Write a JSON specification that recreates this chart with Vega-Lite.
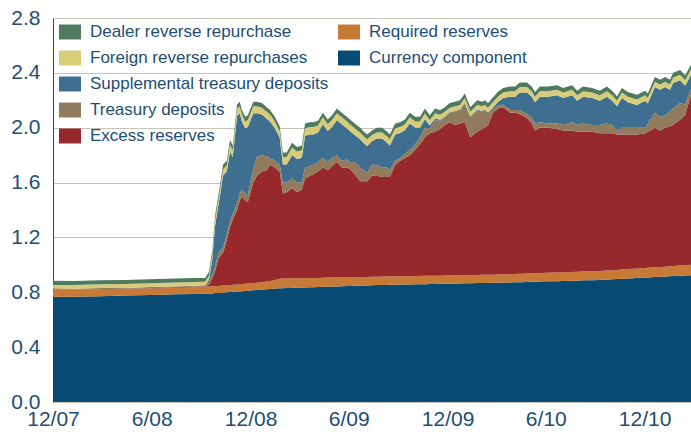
{
"$schema": "https://vega.github.io/schema/vega-lite/v6.json",
"width": 638, "height": 384,
"autosize": {"type": "none"},
"padding": {"left": 53, "top": 18, "right": 0, "bottom": 31},
"background": "white",
"config": {"view": {"stroke": null}, "font": "Liberation Sans"},
"datasets": {
"series": [
{"key": "cur", "name": "Currency component", "rank": 1},
{"key": "req", "name": "Required reserves", "rank": 2},
{"key": "exc", "name": "Excess reserves", "rank": 3},
{"key": "td", "name": "Treasury deposits", "rank": 4},
{"key": "std", "name": "Supplemental treasury deposits", "rank": 5},
{"key": "frr", "name": "Foreign reverse repurchases", "rank": 6},
{"key": "drr", "name": "Dealer reverse repurchase", "rank": 7}
],
"main": [
{"d":"2007-12-01","cur":0.768,"req":0.049,"exc":0.004,"td":0.008,"std":0,"frr":0.025,"drr":0.030},
{"d":"2008-01-10","cur":0.768,"req":0.048,"exc":0.004,"td":0.006,"std":0,"frr":0.027,"drr":0.029},
{"d":"2008-02-26","cur":0.772,"req":0.047,"exc":0.004,"td":0.008,"std":0,"frr":0.027,"drr":0.029},
{"d":"2008-04-12","cur":0.776,"req":0.046,"exc":0.004,"td":0.006,"std":0,"frr":0.028,"drr":0.029},
{"d":"2008-05-29","cur":0.780,"req":0.046,"exc":0.004,"td":0.008,"std":0,"frr":0.028,"drr":0.029},
{"d":"2008-07-14","cur":0.785,"req":0.047,"exc":0.004,"td":0.007,"std":0,"frr":0.028,"drr":0.029},
{"d":"2008-08-20","cur":0.788,"req":0.048,"exc":0.004,"td":0.008,"std":0,"frr":0.027,"drr":0.029},
{"d":"2008-09-08","cur":0.790,"req":0.050,"exc":0.004,"td":0.008,"std":0,"frr":0.025,"drr":0.028},
{"d":"2008-09-15","cur":0.791,"req":0.051,"exc":0.013,"td":0.015,"std":0.022,"frr":0.030,"drr":0.028},
{"d":"2008-09-21","cur":0.792,"req":0.052,"exc":0.056,"td":0.030,"std":0.102,"frr":0.035,"drr":0.033},
{"d":"2008-09-26","cur":0.794,"req":0.052,"exc":0.104,"td":0.040,"std":0.286,"frr":0.040,"drr":0.034},
{"d":"2008-10-02","cur":0.795,"req":0.051,"exc":0.194,"td":0.040,"std":0.346,"frr":0.040,"drr":0.034},
{"d":"2008-10-05","cur":0.796,"req":0.052,"exc":0.212,"td":0.040,"std":0.396,"frr":0.040,"drr":0.034},
{"d":"2008-10-11","cur":0.798,"req":0.051,"exc":0.241,"td":0.040,"std":0.521,"frr":0.045,"drr":0.034},
{"d":"2008-10-18","cur":0.800,"req":0.051,"exc":0.329,"td":0.040,"std":0.461,"frr":0.045,"drr":0.034},
{"d":"2008-10-24","cur":0.802,"req":0.051,"exc":0.427,"td":0.040,"std":0.506,"frr":0.050,"drr":0.034},
{"d":"2008-10-29","cur":0.803,"req":0.052,"exc":0.475,"td":0.040,"std":0.416,"frr":0.050,"drr":0.034},
{"d":"2008-11-06","cur":0.806,"req":0.051,"exc":0.543,"td":0.050,"std":0.636,"frr":0.050,"drr":0.034},
{"d":"2008-11-11","cur":0.807,"req":0.052,"exc":0.611,"td":0.050,"std":0.586,"frr":0.050,"drr":0.034},
{"d":"2008-11-15","cur":0.808,"req":0.052,"exc":0.640,"td":0.050,"std":0.496,"frr":0.050,"drr":0.034},
{"d":"2008-11-21","cur":0.810,"req":0.052,"exc":0.608,"td":0.050,"std":0.476,"frr":0.050,"drr":0.034},
{"d":"2008-11-26","cur":0.812,"req":0.052,"exc":0.596,"td":0.050,"std":0.496,"frr":0.050,"drr":0.034},
{"d":"2008-12-06","cur":0.815,"req":0.053,"exc":0.732,"td":0.100,"std":0.406,"frr":0.050,"drr":0.034},
{"d":"2008-12-13","cur":0.817,"req":0.053,"exc":0.780,"td":0.140,"std":0.316,"frr":0.050,"drr":0.034},
{"d":"2008-12-22","cur":0.820,"req":0.053,"exc":0.807,"td":0.120,"std":0.296,"frr":0.050,"drr":0.034},
{"d":"2008-12-31","cur":0.823,"req":0.055,"exc":0.812,"td":0.100,"std":0.276,"frr":0.050,"drr":0.034},
{"d":"2009-01-06","cur":0.824,"req":0.059,"exc":0.847,"td":0.050,"std":0.266,"frr":0.050,"drr":0.034},
{"d":"2009-01-15","cur":0.827,"req":0.063,"exc":0.820,"td":0.050,"std":0.236,"frr":0.050,"drr":0.034},
{"d":"2009-01-24","cur":0.830,"req":0.068,"exc":0.782,"td":0.050,"std":0.196,"frr":0.050,"drr":0.034},
{"d":"2009-01-30","cur":0.830,"req":0.070,"exc":0.620,"td":0.080,"std":0.131,"frr":0.055,"drr":0.034},
{"d":"2009-02-06","cur":0.831,"req":0.070,"exc":0.629,"td":0.070,"std":0.131,"frr":0.055,"drr":0.034},
{"d":"2009-02-16","cur":0.832,"req":0.070,"exc":0.658,"td":0.070,"std":0.171,"frr":0.055,"drr":0.034},
{"d":"2009-02-25","cur":0.834,"req":0.068,"exc":0.628,"td":0.070,"std":0.171,"frr":0.055,"drr":0.034},
{"d":"2009-03-06","cur":0.835,"req":0.068,"exc":0.647,"td":0.050,"std":0.181,"frr":0.055,"drr":0.034},
{"d":"2009-03-12","cur":0.835,"req":0.068,"exc":0.727,"td":0.080,"std":0.231,"frr":0.055,"drr":0.034},
{"d":"2009-03-21","cur":0.837,"req":0.067,"exc":0.746,"td":0.070,"std":0.231,"frr":0.055,"drr":0.034},
{"d":"2009-03-27","cur":0.837,"req":0.068,"exc":0.755,"td":0.070,"std":0.221,"frr":0.055,"drr":0.034},
{"d":"2009-04-05","cur":0.838,"req":0.067,"exc":0.775,"td":0.070,"std":0.216,"frr":0.050,"drr":0.034},
{"d":"2009-04-14","cur":0.840,"req":0.066,"exc":0.804,"td":0.070,"std":0.246,"frr":0.050,"drr":0.034},
{"d":"2009-04-23","cur":0.841,"req":0.066,"exc":0.783,"td":0.060,"std":0.226,"frr":0.050,"drr":0.034},
{"d":"2009-05-01","cur":0.842,"req":0.065,"exc":0.813,"td":0.060,"std":0.226,"frr":0.050,"drr":0.034},
{"d":"2009-05-10","cur":0.843,"req":0.065,"exc":0.842,"td":0.050,"std":0.256,"frr":0.050,"drr":0.034},
{"d":"2009-05-19","cur":0.844,"req":0.065,"exc":0.801,"td":0.050,"std":0.266,"frr":0.050,"drr":0.034},
{"d":"2009-05-29","cur":0.845,"req":0.064,"exc":0.800,"td":0.060,"std":0.226,"frr":0.050,"drr":0.034},
{"d":"2009-06-03","cur":0.846,"req":0.064,"exc":0.790,"td":0.050,"std":0.226,"frr":0.050,"drr":0.034},
{"d":"2009-06-12","cur":0.847,"req":0.063,"exc":0.750,"td":0.090,"std":0.196,"frr":0.050,"drr":0.034},
{"d":"2009-06-22","cur":0.848,"req":0.063,"exc":0.699,"td":0.100,"std":0.206,"frr":0.050,"drr":0.034},
{"d":"2009-06-29","cur":0.849,"req":0.063,"exc":0.698,"td":0.080,"std":0.196,"frr":0.050,"drr":0.034},
{"d":"2009-07-05","cur":0.850,"req":0.062,"exc":0.698,"td":0.060,"std":0.196,"frr":0.050,"drr":0.034},
{"d":"2009-07-14","cur":0.851,"req":0.062,"exc":0.737,"td":0.080,"std":0.171,"frr":0.045,"drr":0.034},
{"d":"2009-07-23","cur":0.853,"req":0.061,"exc":0.736,"td":0.080,"std":0.191,"frr":0.045,"drr":0.034},
{"d":"2009-08-02","cur":0.853,"req":0.062,"exc":0.725,"td":0.070,"std":0.211,"frr":0.045,"drr":0.034},
{"d":"2009-08-11","cur":0.854,"req":0.061,"exc":0.725,"td":0.070,"std":0.181,"frr":0.045,"drr":0.034},
{"d":"2009-08-16","cur":0.855,"req":0.061,"exc":0.724,"td":0.050,"std":0.181,"frr":0.045,"drr":0.034},
{"d":"2009-08-26","cur":0.855,"req":0.061,"exc":0.814,"td":0.030,"std":0.191,"frr":0.045,"drr":0.034},
{"d":"2009-09-04","cur":0.856,"req":0.061,"exc":0.843,"td":0.020,"std":0.181,"frr":0.045,"drr":0.034},
{"d":"2009-09-13","cur":0.857,"req":0.060,"exc":0.863,"td":0.030,"std":0.171,"frr":0.045,"drr":0.034},
{"d":"2009-09-22","cur":0.857,"req":0.061,"exc":0.882,"td":0.040,"std":0.191,"frr":0.045,"drr":0.034},
{"d":"2009-10-02","cur":0.858,"req":0.060,"exc":0.922,"td":0.040,"std":0.121,"frr":0.045,"drr":0.034},
{"d":"2009-10-11","cur":0.859,"req":0.060,"exc":0.961,"td":0.050,"std":0.071,"frr":0.045,"drr":0.034},
{"d":"2009-10-20","cur":0.859,"req":0.061,"exc":1.010,"td":0.070,"std":0.061,"frr":0.045,"drr":0.034},
{"d":"2009-10-29","cur":0.860,"req":0.060,"exc":1.040,"td":0.032,"std":0.024,"frr":0.040,"drr":0.034},
{"d":"2009-11-08","cur":0.861,"req":0.060,"exc":1.049,"td":0.082,"std":0.016,"frr":0.038,"drr":0.034},
{"d":"2009-11-17","cur":0.862,"req":0.059,"exc":1.069,"td":0.060,"std":0.008,"frr":0.036,"drr":0.034},
{"d":"2009-11-26","cur":0.862,"req":0.060,"exc":1.098,"td":0.057,"std":0.005,"frr":0.034,"drr":0.034},
{"d":"2009-12-05","cur":0.863,"req":0.060,"exc":1.117,"td":0.067,"std":0.005,"frr":0.034,"drr":0.034},
{"d":"2009-12-15","cur":0.863,"req":0.060,"exc":1.097,"td":0.097,"std":0.005,"frr":0.034,"drr":0.034},
{"d":"2009-12-24","cur":0.864,"req":0.060,"exc":1.106,"td":0.097,"std":0.005,"frr":0.034,"drr":0.034},
{"d":"2010-01-02","cur":0.865,"req":0.060,"exc":1.115,"td":0.137,"std":0.005,"frr":0.034,"drr":0.034},
{"d":"2010-01-12","cur":0.866,"req":0.059,"exc":1.005,"td":0.147,"std":0.005,"frr":0.034,"drr":0.034},
{"d":"2010-01-25","cur":0.867,"req":0.059,"exc":1.044,"td":0.157,"std":0.005,"frr":0.034,"drr":0.034},
{"d":"2010-02-03","cur":0.867,"req":0.060,"exc":1.063,"td":0.127,"std":0.005,"frr":0.034,"drr":0.034},
{"d":"2010-02-08","cur":0.868,"req":0.059,"exc":1.073,"td":0.127,"std":0.005,"frr":0.034,"drr":0.034},
{"d":"2010-02-14","cur":0.868,"req":0.059,"exc":1.093,"td":0.087,"std":0.005,"frr":0.034,"drr":0.034},
{"d":"2010-02-23","cur":0.869,"req":0.059,"exc":1.182,"td":0.032,"std":0.008,"frr":0.036,"drr":0.034},
{"d":"2010-03-04","cur":0.870,"req":0.060,"exc":1.210,"td":0.020,"std":0.026,"frr":0.040,"drr":0.034},
{"d":"2010-03-14","cur":0.871,"req":0.060,"exc":1.219,"td":0.020,"std":0.046,"frr":0.040,"drr":0.034},
{"d":"2010-03-27","cur":0.872,"req":0.060,"exc":1.178,"td":0.020,"std":0.096,"frr":0.040,"drr":0.034},
{"d":"2010-04-05","cur":0.873,"req":0.061,"exc":1.176,"td":0.020,"std":0.096,"frr":0.040,"drr":0.034},
{"d":"2010-04-14","cur":0.874,"req":0.061,"exc":1.165,"td":0.030,"std":0.126,"frr":0.040,"drr":0.034},
{"d":"2010-04-27","cur":0.875,"req":0.062,"exc":1.133,"td":0.030,"std":0.156,"frr":0.040,"drr":0.034},
{"d":"2010-05-06","cur":0.876,"req":0.062,"exc":1.092,"td":0.040,"std":0.156,"frr":0.040,"drr":0.034},
{"d":"2010-05-12","cur":0.877,"req":0.062,"exc":1.041,"td":0.050,"std":0.156,"frr":0.040,"drr":0.034},
{"d":"2010-05-21","cur":0.878,"req":0.062,"exc":1.060,"td":0.040,"std":0.186,"frr":0.040,"drr":0.034},
{"d":"2010-06-05","cur":0.880,"req":0.062,"exc":1.058,"td":0.030,"std":0.196,"frr":0.040,"drr":0.034},
{"d":"2010-06-22","cur":0.881,"req":0.063,"exc":1.046,"td":0.040,"std":0.206,"frr":0.040,"drr":0.034},
{"d":"2010-07-03","cur":0.883,"req":0.063,"exc":1.034,"td":0.040,"std":0.196,"frr":0.040,"drr":0.034},
{"d":"2010-07-20","cur":0.884,"req":0.064,"exc":1.032,"td":0.060,"std":0.196,"frr":0.040,"drr":0.034},
{"d":"2010-07-29","cur":0.885,"req":0.064,"exc":1.021,"td":0.050,"std":0.176,"frr":0.040,"drr":0.034},
{"d":"2010-08-09","cur":0.887,"req":0.064,"exc":1.019,"td":0.060,"std":0.196,"frr":0.040,"drr":0.034},
{"d":"2010-08-26","cur":0.888,"req":0.065,"exc":1.017,"td":0.050,"std":0.196,"frr":0.040,"drr":0.034},
{"d":"2010-09-09","cur":0.890,"req":0.065,"exc":1.005,"td":0.060,"std":0.176,"frr":0.040,"drr":0.034},
{"d":"2010-09-22","cur":0.893,"req":0.065,"exc":1.002,"td":0.070,"std":0.196,"frr":0.040,"drr":0.034},
{"d":"2010-10-02","cur":0.895,"req":0.066,"exc":0.999,"td":0.060,"std":0.176,"frr":0.040,"drr":0.034},
{"d":"2010-10-11","cur":0.897,"req":0.066,"exc":0.987,"td":0.030,"std":0.176,"frr":0.040,"drr":0.034},
{"d":"2010-10-20","cur":0.899,"req":0.067,"exc":0.984,"td":0.050,"std":0.216,"frr":0.040,"drr":0.034},
{"d":"2010-10-31","cur":0.901,"req":0.068,"exc":0.981,"td":0.050,"std":0.186,"frr":0.040,"drr":0.034},
{"d":"2010-11-17","cur":0.904,"req":0.069,"exc":0.977,"td":0.050,"std":0.166,"frr":0.040,"drr":0.034},
{"d":"2010-12-02","cur":0.907,"req":0.070,"exc":0.983,"td":0.040,"std":0.196,"frr":0.040,"drr":0.034},
{"d":"2010-12-07","cur":0.908,"req":0.071,"exc":0.991,"td":0.060,"std":0.146,"frr":0.040,"drr":0.034},
{"d":"2010-12-20","cur":0.911,"req":0.071,"exc":1.018,"td":0.110,"std":0.186,"frr":0.040,"drr":0.034},
{"d":"2010-12-30","cur":0.913,"req":0.072,"exc":0.995,"td":0.100,"std":0.196,"frr":0.040,"drr":0.034},
{"d":"2011-01-08","cur":0.915,"req":0.072,"exc":1.013,"td":0.090,"std":0.206,"frr":0.040,"drr":0.034},
{"d":"2011-01-17","cur":0.917,"req":0.073,"exc":1.020,"td":0.110,"std":0.156,"frr":0.040,"drr":0.034},
{"d":"2011-01-23","cur":0.918,"req":0.073,"exc":1.029,"td":0.120,"std":0.186,"frr":0.040,"drr":0.034},
{"d":"2011-02-05","cur":0.921,"req":0.074,"exc":1.065,"td":0.120,"std":0.166,"frr":0.040,"drr":0.034},
{"d":"2011-02-14","cur":0.923,"req":0.074,"exc":1.093,"td":0.080,"std":0.136,"frr":0.040,"drr":0.034},
{"d":"2011-02-25","cur":0.925,"req":0.075,"exc":1.240,"td":0.040,"std":0.106,"frr":0.040,"drr":0.034}
]
},
"data": {"name": "main"},
"transform": [
{"fold": ["cur", "req", "exc", "td", "std", "frr", "drr"], "as": ["key", "value"]},
{"lookup": "key", "from": {"data": {"name": "series"}, "key": "key", "fields": ["name", "rank"]}}
],
"mark": {"type": "area", "interpolate": "linear"},
"encoding": {
"x": {
"field": "d", "type": "temporal",
"scale": {"type": "utc", "domain": [{"year": 2007, "month": 12, "date": 1, "utc": true}, {"year": 2011, "month": 2, "date": 25, "utc": true}]},
"axis": {
"title": null,
"labelExpr": "utcFormat(datum.value, '%-m/%y')",
"values": [
{"year": 2007, "month": 12, "date": 1, "utc": true},
{"year": 2008, "month": 6, "date": 1, "utc": true},
{"year": 2008, "month": 12, "date": 1, "utc": true},
{"year": 2009, "month": 6, "date": 1, "utc": true},
{"year": 2009, "month": 12, "date": 1, "utc": true},
{"year": 2010, "month": 6, "date": 1, "utc": true},
{"year": 2010, "month": 12, "date": 1, "utc": true}
],
"grid": false, "ticks": false, "domain": false,
"labelFont": "Liberation Sans", "labelFontSize": 21, "labelColor": "#1d4e75",
"labelPadding": 6, "labelFlush": false, "labelOverlap": false
}
},
"y": {
"field": "value", "type": "quantitative", "stack": "zero",
"scale": {"domain": [0, 2.8], "nice": false, "zero": true},
"axis": {
"title": null, "values": [0, 0.4, 0.8, 1.2, 1.6, 2.0, 2.4, 2.8], "format": ".1f",
"grid": true, "gridColor": "#cbc2b8", "gridWidth": 1.2,
"ticks": false, "domain": true, "domainColor": "#24466b", "domainWidth": 1,
"labelFont": "Liberation Sans", "labelFontSize": 21, "labelColor": "#1d4e75",
"labelPadding": 13
}
},
"color": {
"field": "name", "type": "nominal",
"scale": {
"domain": ["Dealer reverse repurchase", "Foreign reverse repurchases", "Supplemental treasury deposits", "Treasury deposits", "Excess reserves", "Required reserves", "Currency component", "_b1", "_b2", "_b3"],
"range": ["#4e7a5f", "#d9cc79", "#3e6f91", "#927a5c", "#97292c", "#c77a36", "#074b74", "rgba(0,0,0,0)", "rgba(0,0,0,0)", "rgba(0,0,0,0)"]
},
"legend": {
"orient": "none", "legendX": 6, "legendY": 3, "columns": 2, "title": null,
"symbolType": "M-1,-0.68H1V0.68H-1Z", "symbolSize": 484, "symbolStrokeWidth": 0, "symbolOpacity": 1,
"labelFont": "Liberation Sans", "labelFontSize": 17, "labelColor": "#1d4e75",
"labelOffset": 9, "rowPadding": 7, "columnPadding": 9, "labelLimit": 400,
"labelExpr": "indexof(datum.label, '_') == 0 ? '' : datum.label"
}
},
"order": {"field": "rank", "type": "quantitative", "sort": "ascending"}
}
}
